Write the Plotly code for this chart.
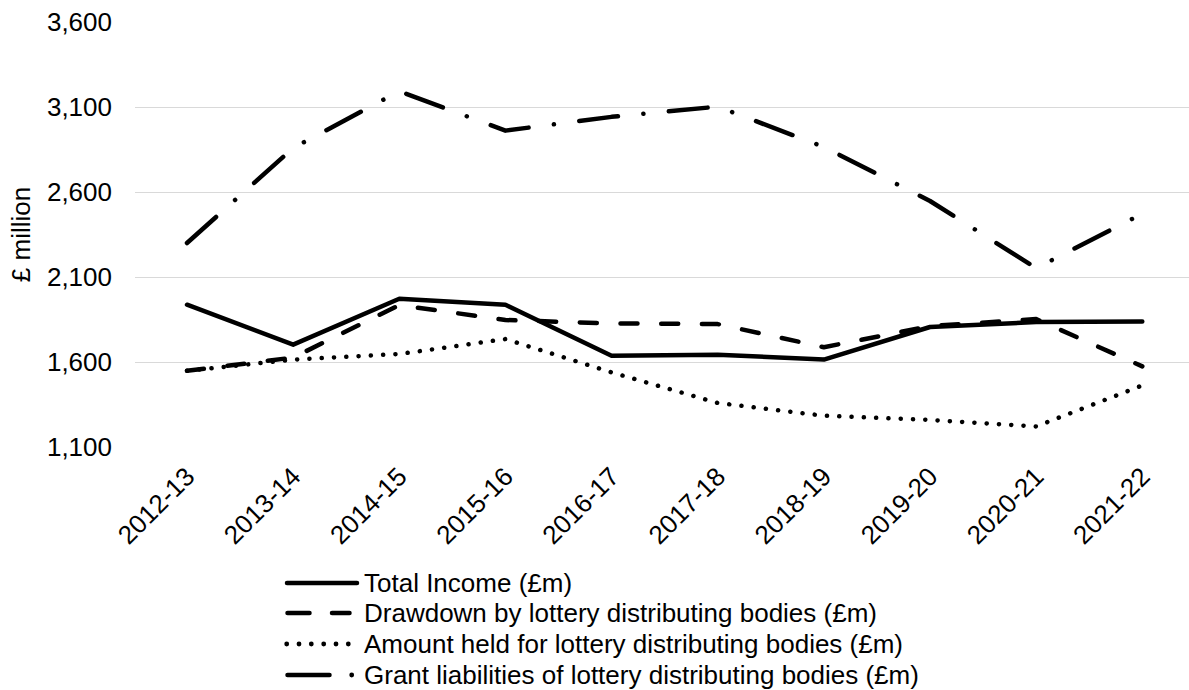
import plotly.graph_objects as go

# ---- data ----
years = ["2012-13", "2013-14", "2014-15", "2015-16", "2016-17",
         "2017-18", "2018-19", "2019-20", "2020-21", "2021-22"]
total_income = [1937, 1702, 1972, 1937, 1637, 1643, 1614, 1806, 1835, 1838]
drawdown = [1548, 1626, 1935, 1847, 1827, 1823, 1687, 1811, 1853, 1574]
amount_held = [1548, 1614, 1647, 1735, 1539, 1359, 1284, 1259, 1221, 1462]
grant_liabilities = [2300, 2859, 3193, 2961, 3042, 3102, 2865, 2547, 2152, 2472]

series_names = [
    "Total Income (£m)",
    "Drawdown by lottery distributing bodies (£m)",
    "Amount held for lottery distributing bodies (£m)",
    "Grant liabilities of lottery distributing bodies (£m)",
]
y_ticks = [1100, 1600, 2100, 2600, 3100, 3600]

# ---- styling ----
FONT = "Liberation Sans, Arial, sans-serif"
FS = 26
LW = 4.5
W, H = 1189, 690
ML, MR, MT, MB = 135, 0, 22, 243
PW, PH = W - ML - MR, H - MT - MB

dashes = ["solid", "17px,23.7px", "0.1px,12.2px", "39px,25.5px,0.1px,25.5px"]
series = [total_income, drawdown, amount_held, grant_liabilities]

fig = go.Figure()
for name, vals, dash in zip(series_names, series, dashes):
    fig.add_trace(go.Scatter(
        x=years, y=vals, mode="lines", name=name, showlegend=False,
        line=dict(color="black", width=LW, dash=dash),
    ))


def px(xpix):
    return (xpix - ML) / PW


def py(ypix):
    return (H - MB - ypix) / PH


# ---- manual legend (samples + text) ----
rows = [583, 613, 644, 675]
text_x = 362
shapes = []
annotations = []
lk = dict(color="black", width=LW)
# row 1 solid
shapes.append(dict(type="line", xref="paper", yref="paper",
                   x0=px(287), x1=px(357), y0=py(rows[0]), y1=py(rows[0]), line=lk))
# row 2 dashed
for a, b in [(287.5, 309.5), (332, 349.5)]:
    shapes.append(dict(type="line", xref="paper", yref="paper",
                       x0=px(a), x1=px(b), y0=py(rows[1]), y1=py(rows[1]), line=lk))
# row 3 dotted
for cx in [286.7, 299, 311.3, 323.7, 336, 348.3]:
    r = 2.4
    shapes.append(dict(type="circle", xref="paper", yref="paper",
                       x0=px(cx - r), x1=px(cx + r), y0=py(rows[2] + r), y1=py(rows[2] - r),
                       fillcolor="black", line=dict(width=0)))
# row 4 long dash + dot
shapes.append(dict(type="line", xref="paper", yref="paper",
                   x0=px(287.5), x1=px(329.5), y0=py(rows[3]), y1=py(rows[3]), line=lk))
shapes.append(dict(type="circle", xref="paper", yref="paper",
                   x0=px(351.7 - 2.4), x1=px(351.7 + 2.4), y0=py(rows[3] + 2.4), y1=py(rows[3] - 2.4),
                   fillcolor="black", line=dict(width=0)))
for name, ry in zip(series_names, rows):
    annotations.append(dict(text=name, xref="paper", yref="paper", x=px(text_x), y=py(ry),
                            xanchor="left", yanchor="middle", showarrow=False,
                            font=dict(family=FONT, size=FS, color="black")))

fig.update_layout(
    width=W, height=H,
    margin=dict(l=ML, r=MR, t=MT, b=MB, pad=0),
    paper_bgcolor="white", plot_bgcolor="white",
    font=dict(family=FONT, size=FS, color="black"),
    shapes=shapes, annotations=annotations,
    xaxis=dict(range=[-0.49, 9.44], tickangle=-45, showgrid=False, showline=False,
               zeroline=False, ticks="", tickfont=dict(size=FS), ticklabelstandoff=8),
    yaxis=dict(range=[1100, 3600], tickvals=y_ticks, tickformat=",d",
               showgrid=True, gridcolor="#d9d9d9", gridwidth=1.2, zeroline=False,
               showline=False, ticks="", ticklabelstandoff=22,
               title=dict(text="£ million", font=dict(size=FS), standoff=8)),
)

post = """
var gd = document.getElementById('{plot_id}');
function fixcaps(){
  document.querySelectorAll('.scatterlayer path.js-line, .shapelayer path').forEach(function(p){
    p.style.strokeLinecap = 'round'; p.style.strokeLinejoin = 'round';
  });
}
fixcaps();
if (gd && gd.on) { gd.on('plotly_afterplot', fixcaps); }
"""
fig.write_html("out.html", post_script=post)
